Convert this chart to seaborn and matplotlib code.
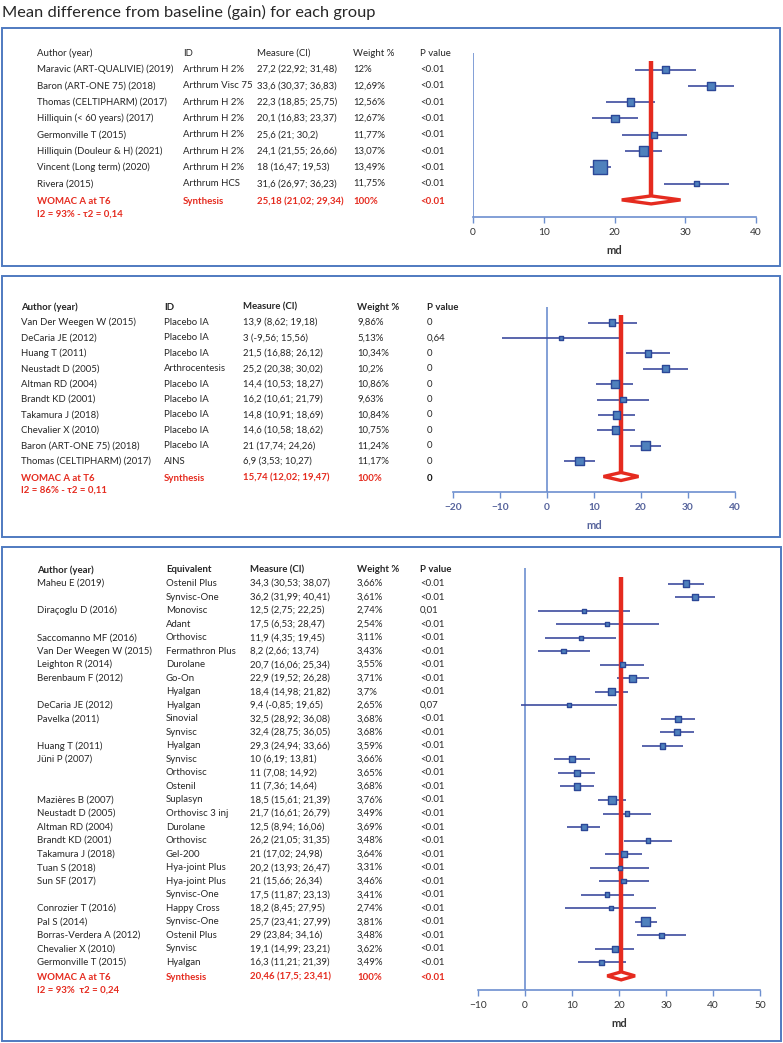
import matplotlib
matplotlib.use("Agg")
import matplotlib.pyplot as plt
import matplotlib.transforms as mtransforms
from matplotlib.patches import Rectangle, Polygon
import numpy as np
import seaborn as sns

# ---- data: panel 1 (Arthrum vs baseline) ----
authors1 = ["Maravic (ART-QUALIVIE) (2019)", "Baron (ART-ONE 75) (2018)", "Thomas (CELTIPHARM) (2017)",
            "Hilliquin (< 60 years) (2017)", "Germonville T (2015)", "Hilliquin (Douleur & H) (2021)",
            "Vincent (Long term) (2020)", "Rivera (2015)"]
ids1 = ["Arthrum H 2%", "Arthrum Visc 75", "Arthrum H 2%", "Arthrum H 2%", "Arthrum H 2%",
        "Arthrum H 2%", "Arthrum H 2%", "Arthrum HCS"]
md1 = [27.2, 33.6, 22.3, 20.1, 25.6, 24.1, 18, 31.6]
lo1 = [22.92, 30.37, 18.85, 16.83, 21, 21.55, 16.47, 26.97]
hi1 = [31.48, 36.83, 25.75, 23.37, 30.2, 26.66, 19.53, 36.23]
weight1 = ["12%", "12,69%", "12,56%", "12,67%", "11,77%", "13,07%", "13,49%", "11,75%"]
pval1 = ["<0.01"] * 8
pooled1 = [25.18, 21.02, 29.34]
pooled_p1 = "<0.01"
hetero1 = "I2 = 93% - \u03c42 = 0,14"

# ---- data: panel 2 (control groups) ----
authors2 = ["Van Der Weegen W (2015)", "DeCaria JE (2012)", "Huang T (2011)", "Neustadt D (2005)",
            "Altman RD (2004)", "Brandt KD (2001)", "Takamura J (2018)", "Chevalier X (2010)",
            "Baron (ART-ONE 75) (2018)", "Thomas (CELTIPHARM) (2017)"]
ids2 = ["Placebo IA", "Placebo IA", "Placebo IA", "Arthrocentesis", "Placebo IA", "Placebo IA",
        "Placebo IA", "Placebo IA", "Placebo IA", "AINS"]
md2 = [13.9, 3, 21.5, 25.2, 14.4, 16.2, 14.8, 14.6, 21, 6.9]
lo2 = [8.62, -9.56, 16.88, 20.38, 10.53, 10.61, 10.91, 10.58, 17.74, 3.53]
hi2 = [19.18, 15.56, 26.12, 30.02, 18.27, 21.79, 18.69, 18.62, 24.26, 10.27]
weight2 = ["9,86%", "5,13%", "10,34%", "10,2%", "10,86%", "9,63%", "10,84%", "10,75%", "11,24%", "11,17%"]
pval2 = ["0", "0,64", "0", "0", "0", "0", "0", "0", "0", "0"]
pooled2 = [15.74, 12.02, 19.47]
pooled_p2 = "0"
hetero2 = "I2 = 86% - \u03c42 = 0,11"

# ---- data: panel 3 (other viscosupplements) ----
authors3 = ["Maheu E (2019)", "", "Dira\u00e7oglu D (2016)", "", "Saccomanno MF (2016)",
            "Van Der Weegen W (2015)", "Leighton R (2014)", "Berenbaum F (2012)", "", "DeCaria JE (2012)",
            "Pavelka (2011)", "", "Huang T (2011)", "J\u00fcni P (2007)", "", "", "Mazi\u00e8res B (2007)",
            "Neustadt D (2005)", "Altman RD (2004)", "Brandt KD (2001)", "Takamura J (2018)", "Tuan S (2018)",
            "Sun SF (2017)", "", "Conrozier T (2016)", "Pal S (2014)", "Borras-Verdera A (2012)",
            "Chevalier X (2010)", "Germonville T (2015)"]
equiv3 = ["Ostenil Plus", "Synvisc-One", "Monovisc", "Adant", "Orthovisc", "Fermathron Plus", "Durolane",
          "Go-On", "Hyalgan", "Hyalgan", "Sinovial", "Synvisc", "Hyalgan", "Synvisc", "Orthovisc", "Ostenil",
          "Suplasyn", "Orthovisc 3 inj", "Durolane", "Orthovisc", "Gel-200", "Hya-joint Plus", "Hya-joint Plus",
          "Synvisc-One", "Happy Cross", "Synvisc-One", "Ostenil Plus", "Synvisc", "Hyalgan"]
md3 = [34.3, 36.2, 12.5, 17.5, 11.9, 8.2, 20.7, 22.9, 18.4, 9.4, 32.5, 32.4, 29.3, 10, 11, 11, 18.5,
       21.7, 12.5, 26.2, 21, 20.2, 21, 17.5, 18.2, 25.7, 29, 19.1, 16.3]
lo3 = [30.53, 31.99, 2.75, 6.53, 4.35, 2.66, 16.06, 19.52, 14.98, -0.85, 28.92, 28.75, 24.94, 6.19, 7.08,
       7.36, 15.61, 16.61, 8.94, 21.05, 17.02, 13.93, 15.66, 11.87, 8.45, 23.41, 23.84, 14.99, 11.21]
hi3 = [38.07, 40.41, 22.25, 28.47, 19.45, 13.74, 25.34, 26.28, 21.82, 19.65, 36.08, 36.05, 33.66, 13.81,
       14.92, 14.64, 21.39, 26.79, 16.06, 31.35, 24.98, 26.47, 26.34, 23.13, 27.95, 27.99, 34.16, 23.21, 21.39]
weight3 = ["3,66%", "3,61%", "2,74%", "2,54%", "3,11%", "3,43%", "3,55%", "3,71%", "3,7%", "2,65%",
           "3,68%", "3,68%", "3,59%", "3,66%", "3,65%", "3,68%", "3,76%", "3,49%", "3,69%", "3,48%",
           "3,64%", "3,31%", "3,46%", "3,41%", "2,74%", "3,81%", "3,48%", "3,62%", "3,49%"]
pval3 = ["<0.01", "<0.01", "0,01", "<0.01", "<0.01", "<0.01", "<0.01", "<0.01", "<0.01", "0,07",
         "<0.01", "<0.01", "<0.01", "<0.01", "<0.01", "<0.01", "<0.01", "<0.01", "<0.01", "<0.01",
         "<0.01", "<0.01", "<0.01", "<0.01", "<0.01", "<0.01", "<0.01", "<0.01", "<0.01"]
pooled3 = [20.46, 17.5, 23.41]
pooled_p3 = "<0.01"
hetero3 = "I2 = 93%  \u03c42 = 0,24"

title = "Mean difference from baseline (gain) for each group"

# ---- style ----
W, H = 783, 1043
sns.set_theme(style="ticks")
plt.rcParams['font.family'] = ['Lato', 'DejaVu Sans']

TXT = '#262626'
RED = '#e52b1f'
BOX = '#4f7ac0'
AXC = '#6d8fcf'
SQ = '#4f81bd'
SQ_EDGE = '#2b4797'
CI = '#3d4c9e'
FS = 6.9

fig = plt.figure(figsize=(W / 100, H / 100), dpi=100)


def fx(px):
    return px / W


def fy(py):
    return 1 - py / H


def fmt(v):
    return f"{v:g}".replace('.', ',')


def forest(box, axis_px, row0, step, xlim, xticks, cols, col_x, headers, md, lo, hi,
           pooled, pooled_p, hetero, big, header_bold, tick_color, tick_bold, pooled_p_color):
    # outer frame of the panel
    fig.add_artist(Rectangle((fx(box[0]), fy(box[3])), (box[2] - box[0]) / W, (box[3] - box[1]) / H,
                             transform=fig.transFigure, fill=False, edgecolor=BOX, lw=1.4))

    x0, x1, top, bottom = axis_px
    ax = fig.add_axes([fx(x0), fy(bottom), (x1 - x0) / W, (bottom - top) / H])
    n = len(md)
    rows = np.arange(n)
    ax.set_xlim(xlim)
    ax.set_ylim((bottom - row0) / step, (top - row0) / step)
    ax.set_xticks(xticks)
    ax.set_yticks([])
    for s in ['top', 'right', 'left']:
        ax.spines[s].set_visible(False)
    ax.spines['bottom'].set_color(AXC)
    ax.spines['bottom'].set_linewidth(1.2)
    ax.tick_params(axis='x', bottom=True, direction='out', length=4, width=1, color=AXC,
                   labelsize=7.3, labelcolor=tick_color, pad=4)
    for lab in ax.get_xticklabels():
        lab.set_fontweight('bold' if tick_bold else 'normal')
    ax.set_xlabel('md', fontsize=8, fontweight='bold', color=tick_color, labelpad=6)
    ax.patch.set_alpha(0)

    # zero line (y axis)
    ax.axvline(0, color=AXC, lw=1.2, zorder=1)

    lo_a, hi_a = np.array(lo), np.array(hi)
    width = hi_a - lo_a
    side_px = np.clip(big * (width.min() / width) ** 0.8, 4, None)
    sizes = (side_px * 0.72) ** 2

    ax.hlines(rows, lo_a, hi_a, color=CI, lw=1.2, zorder=2)
    ax.plot([pooled[0], pooled[0]], [-0.5, n], color=RED, lw=3.2, solid_capstyle='butt', zorder=2)
    sns.scatterplot(x=md, y=rows, marker='s', s=sizes, color=SQ, edgecolor=SQ_EDGE,
                    linewidth=1, ax=ax, zorder=3, legend=False)
    h = 4 / step
    ax.add_patch(Polygon([(pooled[1], n), (pooled[0], n - h), (pooled[2], n), (pooled[0], n + h)],
                         closed=True, facecolor='white', edgecolor=RED, lw=2.4, zorder=4))

    # table to the left
    tr = mtransforms.blended_transform_factory(fig.transFigure, ax.transData)
    hw = 'bold' if header_bold else 'normal'
    for x, head in zip(col_x, headers):
        ax.text(fx(x), -1, head, transform=tr, va='center', fontsize=FS, color=TXT,
                fontweight=hw, clip_on=False)
    for c, x in zip(cols, col_x):
        for i, s in enumerate(c):
            ax.text(fx(x), i, s, transform=tr, va='center', fontsize=FS, color=TXT, clip_on=False)

    syn = ["WOMAC A at T6", "Synthesis",
           f"{fmt(pooled[0])} ({fmt(pooled[1])}; {fmt(pooled[2])})", "100%"]
    for x, s in zip(col_x[:4], syn):
        ax.text(fx(x), n + 0.1, s, transform=tr, va='center', fontsize=FS, color=RED,
                fontweight='bold', clip_on=False)
    ax.text(fx(col_x[4]), n + 0.1, pooled_p, transform=tr, va='center', fontsize=FS,
            color=pooled_p_color, fontweight='bold', clip_on=False)
    ax.text(fx(col_x[0]), n + 0.1 + 12.5 / step, hetero, transform=tr, va='center', fontsize=FS,
            color=RED, fontweight='bold', clip_on=False)
    return ax


fig.text(fx(2), fy(12), title, fontsize=11.8, color=TXT, va='center', ha='left')

# Panel 1
meas1 = [f"{fmt(m)} ({fmt(a)}; {fmt(b)})" for m, a, b in zip(md1, lo1, hi1)]
forest(box=(2, 28, 780, 266), axis_px=(473, 756, 53, 217), row0=69.5, step=16.3,
       xlim=(0, 40), xticks=[0, 10, 20, 30, 40],
       cols=[authors1, ids1, meas1, weight1, pval1], col_x=[37, 183, 257, 353, 420],
       headers=["Author (year)", "ID", "Measure (CI)", "Weight %", "P value"],
       md=md1, lo=lo1, hi=hi1, pooled=pooled1, pooled_p=pooled_p1, hetero=hetero1,
       big=14, header_bold=False, tick_color='#333333', tick_bold=False, pooled_p_color=RED)

# Panel 2
meas2 = [f"{fmt(m)} ({fmt(a)}; {fmt(b)})" for m, a, b in zip(md2, lo2, hi2)]
forest(box=(2, 276, 780, 537), axis_px=(453, 735, 307, 492), row0=322.5, step=15.4,
       xlim=(-20, 40), xticks=[-20, -10, 0, 10, 20, 30, 40],
       cols=[authors2, ids2, meas2, weight2, pval2], col_x=[21, 164, 243, 357, 427],
       headers=["Author (year)", "ID", "Measure (CI)", "Weight %", "P value"],
       md=md2, lo=lo2, hi=hi2, pooled=pooled2, pooled_p=pooled_p2, hetero=hetero2,
       big=9, header_bold=True, tick_color='#56639c', tick_bold=True, pooled_p_color='#111111')

# Panel 3
meas3 = [f"{fmt(m)} ({fmt(a)}; {fmt(b)})" for m, a, b in zip(md3, lo3, hi3)]
forest(box=(2, 547, 781, 1041), axis_px=(478, 760, 568, 990), row0=583.5, step=13.53,
       xlim=(-10, 50), xticks=[-10, 0, 10, 20, 30, 40, 50],
       cols=[authors3, equiv3, meas3, weight3, pval3], col_x=[37, 166, 250, 357, 420],
       headers=["Author (year)", "Equivalent", "Measure (CI)", "Weight %", "P value"],
       md=md3, lo=lo3, hi=hi3, pooled=pooled3, pooled_p=pooled_p3, hetero=hetero3,
       big=9, header_bold=True, tick_color='#333333', tick_bold=False, pooled_p_color=RED)

fig.savefig('out.png', dpi=100)
